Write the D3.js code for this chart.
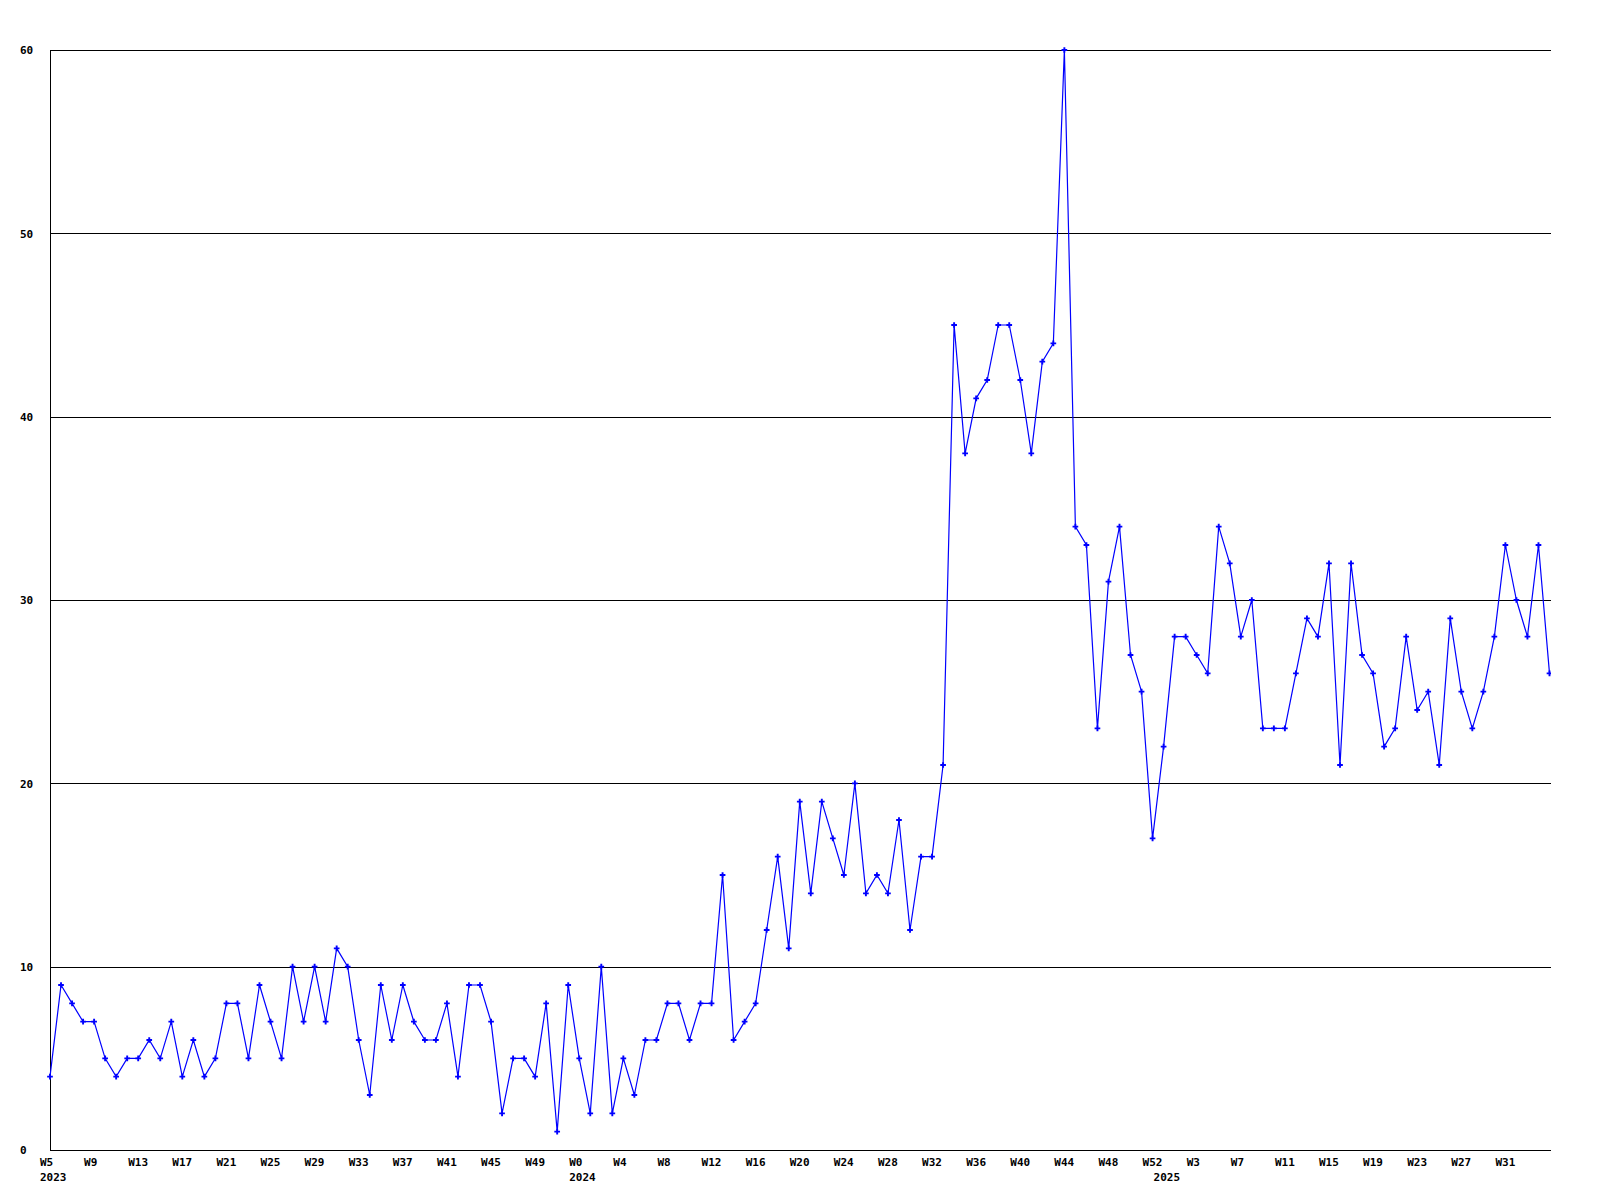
<!DOCTYPE html>
<html>
<head>
<meta charset="utf-8">
<script src="https://cdn.jsdelivr.net/npm/d3@7"></script>
<style>
  html, body { margin: 0; padding: 0; background: #ffffff; }
  svg { display: block; }
  text { font-family: "DejaVu Sans Mono", "Liberation Mono", monospace; font-weight: bold; font-size: 11px; fill: #000; }
</style>
</head>
<body>
<svg id="chart" width="1600" height="1200"></svg>
<script>
// ---- data ----
const years = ["2023", "2024", "2025"];
const weeks2023 = [5,6,7,8,9,10,11,12,13,14,15,16,17,18,19,20,21,22,23,24,25,26,27,28,29,30,31,32,33,34,35,36,37,38,39,40,41,42,43,44,45,46,47,48,49,50,51,52];
const weeks2024 = [0,1,2,3,4,5,6,7,8,9,10,11,12,13,14,15,16,17,18,19,20,21,22,23,24,25,26,27,28,29,30,31,32,33,34,35,36,37,38,39,40,41,42,43,44,45,46,47,48,49,50,51,52];
const weeks2025 = [0,1,2,3,4,5,6,7,8,9,10,11,12,13,14,15,16,17,18,19,20,21,22,23,24,25,26,27,28,29,30,31,32,33,34,35];
const values2023 = [4,9,8,7,7,5,4,5,5,6,5,7,4,6,4,5,8,8,5,9,7,5,10,7,10,7,11,10,6,3,9,6,9,7,6,6,8,4,9,9,7,2,5,5,4,8,1,9];
const values2024 = [5,2,10,2,5,3,6,6,8,8,6,8,8,15,6,7,8,12,16,11,19,14,19,17,15,20,14,15,14,18,12,16,16,21,45,38,41,42,45,45,42,38,43,44,60,34,33,23,31,34,27,25,17];
const values2025 = [22,28,28,27,26,34,32,28,30,23,23,23,26,29,28,32,21,32,27,26,22,23,28,24,25,21,29,25,23,25,28,33,30,28,33,26];
const yTicks = [0, 10, 20, 30, 40, 50, 60];
const xLabelEvery = 4;

(function () {
// ---- build table ----
const weekLists = [weeks2023, weeks2024, weeks2025];
const valueLists = [values2023, values2024, values2025];
const rows = [];
years.forEach((yr, i) => {
  weekLists[i].forEach((w, j) => {
    rows.push({ key: yr + "-W" + w, year: yr, week: w, value: valueLists[i][j], first: j === 0 });
  });
});

// ---- layout ----
const mLeft = 50, mTop = 50, mBottom = 1150, plotRight = 1551;
const x = d3.scalePoint().domain(rows.map(d => d.key)).range([mLeft, 1549.5]);
const y = d3.scaleLinear().domain([0, 60]).range([mBottom, mTop]);

const svg = d3.select("#chart");

// gridlines + y labels via axis
const yAxis = d3.axisLeft(y).tickValues(yTicks).tickSize(-(plotRight - mLeft)).tickFormat(d3.format("d"));
const gy = svg.append("g").attr("transform", `translate(${mLeft},0)`).call(yAxis);
gy.attr("font-family", null).attr("font-size", null);
gy.select(".domain").remove();
gy.selectAll(".tick line").attr("stroke", "#000").attr("stroke-width", 1).attr("shape-rendering", "crispEdges");
gy.selectAll(".tick text").attr("x", 20 - mLeft).attr("dy", "0.36em").attr("text-anchor", "start");

// y axis vertical line
svg.append("line").attr("x1", mLeft).attr("x2", mLeft).attr("y1", mTop).attr("y2", mBottom)
  .attr("stroke", "#000").attr("stroke-width", 1).attr("shape-rendering", "crispEdges");

// x axis labels
const labelKeys = rows.filter((d, i) => i % xLabelEvery === 0 && i < rows.length - 1).map(d => d.key);
const rowByKey = new Map(rows.map(d => [d.key, d]));
const xAxis = d3.axisBottom(x).tickValues(labelKeys).tickSize(0).tickPadding(0).tickFormat(k => "W" + rowByKey.get(k).week);
const gx = svg.append("g").attr("transform", `translate(0,${mBottom})`).call(xAxis);
gx.attr("font-family", null).attr("font-size", null);
gx.select(".domain").remove();
gx.selectAll(".tick line").remove();
gx.selectAll(".tick text").attr("text-anchor", "start").attr("dx", -10.5).attr("y", 16).attr("dy", 0);

// year labels under first week of each year
const yearAxis = d3.axisBottom(x).tickValues(rows.filter(d => d.first).map(d => d.key))
  .tickSize(0).tickPadding(0).tickFormat(k => rowByKey.get(k).year);
const gyear = svg.append("g").attr("transform", `translate(0,${mBottom})`).call(yearAxis);
gyear.attr("font-family", null).attr("font-size", null);
gyear.select(".domain").remove();
gyear.selectAll(".tick line").remove();
gyear.selectAll(".tick text").attr("text-anchor", "start").attr("dx", -10.5).attr("y", 30.7).attr("dy", 0);

// clip
svg.append("clipPath").attr("id", "plotclip").append("rect")
  .attr("x", mLeft - 4).attr("y", mTop - 4).attr("width", plotRight - mLeft + 4).attr("height", mBottom - mTop + 8);

const plot = svg.append("g").attr("clip-path", "url(#plotclip)");

const line = d3.line().x(d => x(d.key)).y(d => y(d.value));
plot.append("path").datum(rows).attr("d", line)
  .attr("fill", "none").attr("stroke", "#0000ff").attr("stroke-width", 1.2);

const sym = d3.symbol().type(d3.symbolCross).size(18);
plot.selectAll("path.mk").data(rows).enter().append("path").attr("class", "mk")
  .attr("transform", d => `translate(${x(d.key)},${y(d.value)})`)
  .attr("d", sym).attr("fill", "#0000ff");
})();
</script>
</body>
</html>
